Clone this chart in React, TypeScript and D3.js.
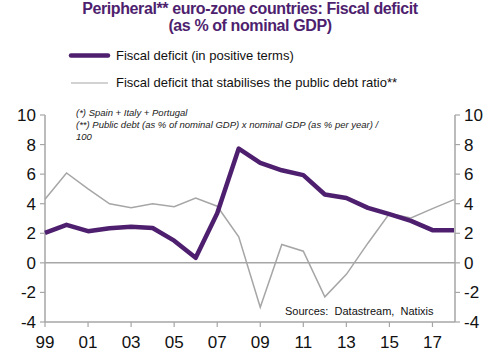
import * as d3 from 'd3';

const years = d3.range(1999, 2019);
const fiscalDeficit = [2.03, 2.57, 2.14, 2.34, 2.45, 2.36, 1.5, 0.34, 3.36, 7.73, 6.76, 6.26, 5.93, 4.62, 4.39, 3.72, 3.29, 2.84, 2.21, 2.21];
const stabilisingDeficit = [4.3, 6.08, 5.0, 3.99, 3.72, 3.99, 3.8, 4.38, 3.83, 1.76, -3.0, 1.24, 0.79, -2.3, -0.78, 1.33, 3.34, 3.04, 3.67, 4.28];
const yTicks = [-4, -2, 0, 2, 4, 6, 8, 10];
const xTickYears = [1999, 2001, 2003, 2005, 2007, 2009, 2011, 2013, 2015, 2017];

const PURPLE = '#4e1f6e';
const GREY = '#a6a6a6';
const FONT = 'Liberation Sans, Arial, sans-serif';

export default function App() {
  const width = 500;
  const height = 358;
  const x = d3.scaleLinear().domain([1999, 2018]).range([45, 454]);
  const y = d3.scaleLinear().domain([-4, 10]).range([322, 115]);

  const line = d3
    .line<number>()
    .x((_, i) => x(years[i]))
    .y((d) => y(d));

  return (
    <svg
      width={width}
      height={height}
      style={{ position: 'absolute', left: 0, top: 0, fontFamily: FONT }}
    >
      <rect width={width} height={height} fill="#fff" />
      {/* title */}
      <text x={250} y={14} textAnchor="middle" fontSize={16} fontWeight="bold" fill={PURPLE} letterSpacing={-0.4}>
        Peripheral** euro-zone countries: Fiscal deficit
      </text>
      <text x={250} y={31} textAnchor="middle" fontSize={16} fontWeight="bold" fill={PURPLE} letterSpacing={-0.4}>
        (as % of nominal GDP)
      </text>

      {/* legend */}
      <line x1={71} x2={108} y1={55.5} y2={55.5} stroke={PURPLE} strokeWidth={4.5} strokeLinecap="round" />
      <text x={116} y={60} fontSize={13} fill="#111">Fiscal deficit (in positive terms)</text>
      <line x1={71} x2={108} y1={83} y2={83} stroke={GREY} strokeWidth={1.2} />
      <text x={116} y={87} fontSize={13} fill="#111">Fiscal deficit that stabilises the public debt ratio**</text>

      {/* axes */}
      <line x1={45} x2={45} y1={y(10)} y2={y(-4)} stroke={GREY} strokeWidth={1.5} />
      <line x1={455} x2={455} y1={y(10)} y2={y(-4)} stroke={GREY} strokeWidth={1.5} />
      <line x1={45} x2={455} y1={y(-4)} y2={y(-4)} stroke={GREY} strokeWidth={1.5} />
      <line x1={45} x2={455} y1={y(0)} y2={y(0)} stroke={GREY} strokeWidth={1.5} />
      {yTicks.map((t) => (
        <g key={t}>
          <line x1={40} x2={45} y1={y(t)} y2={y(t)} stroke={GREY} strokeWidth={1.2} />
          <line x1={455} x2={460} y1={y(t)} y2={y(t)} stroke={GREY} strokeWidth={1.2} />
          <text x={36} y={y(t) + 6} textAnchor="end" fontSize={17} fill="#111">{t}</text>
          <text x={464} y={y(t) + 6} fontSize={17} fill="#111">{t}</text>
        </g>
      ))}
      {xTickYears.map((yr) => (
        <g key={yr}>
          <line x1={x(yr)} x2={x(yr)} y1={y(-4)} y2={y(-4) + 5} stroke={GREY} strokeWidth={1.2} />
          <text x={x(yr)} y={348} textAnchor="middle" fontSize={17} fill="#111">
            {String(yr % 100).padStart(2, '0')}
          </text>
        </g>
      ))}

      {/* notes */}
      <g fontSize={9.5} fontStyle="italic" fill="#222">
        <text x={76} y={116}>(*) Spain + Italy + Portugal</text>
        <text x={76} y={128}>(**) Public debt (as % of nominal GDP) x nominal GDP (as % per year) /</text>
        <text x={76} y={140}>100</text>
      </g>
      <text x={285} y={315} fontSize={11} fill="#111" style={{ whiteSpace: 'pre' }}>Sources:  Datastream,  Natixis</text>

      {/* series */}
      <path d={line(stabilisingDeficit) || ''} fill="none" stroke={GREY} strokeWidth={1.5} />
      <path d={line(fiscalDeficit) || ''} fill="none" stroke={PURPLE} strokeWidth={4.5} strokeLinejoin="round" />
    </svg>
  );
}
